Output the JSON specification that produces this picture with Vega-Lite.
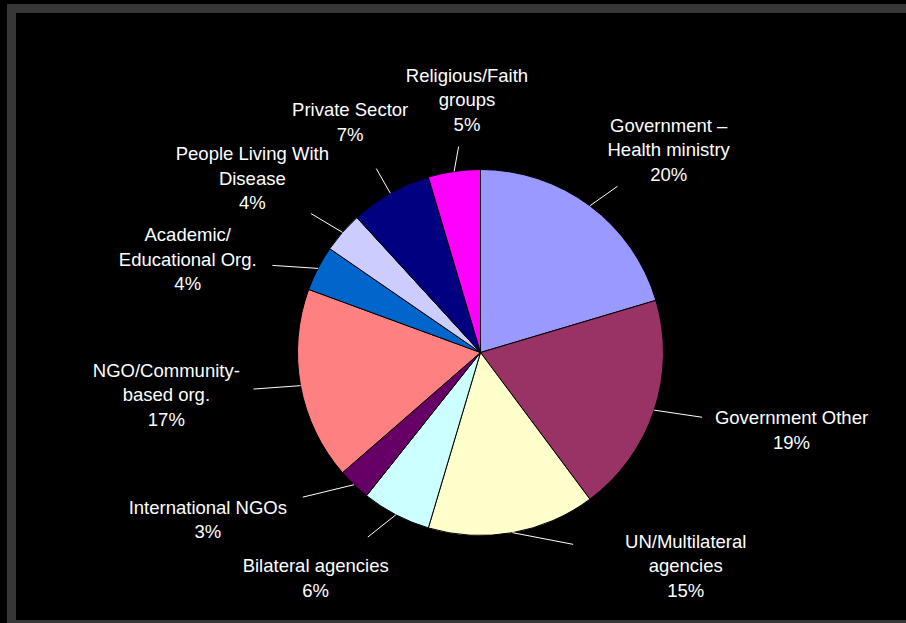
{
  "$schema": "https://vega.github.io/schema/vega-lite/v6.json",
  "width": 906,
  "height": 623,
  "autosize": {"type": "fit", "contains": "padding"},
  "padding": {"left": 11.5, "top": 8.5, "right": -6, "bottom": -1.5},
  "background": "black",
  "config": {
    "view": {"fill": "black", "stroke": "#373737", "strokeWidth": 9},
    "axis": {"disable": true}
  },
  "data": {
    "values": [
      {"name": "Government –\nHealth ministry", "v": 20.4},
      {"name": "Government Other", "v": 19.4},
      {"name": "UN/Multilateral\nagencies", "v": 14.8},
      {"name": "Bilateral agencies", "v": 6.1},
      {"name": "International NGOs", "v": 2.9},
      {"name": "NGO/Community-\nbased org.", "v": 17.0},
      {"name": "Academic/\nEducational Org.", "v": 4.0},
      {"name": "People Living With\nDisease", "v": 3.6},
      {"name": "Private Sector", "v": 7.2},
      {"name": "Religious/Faith\ngroups", "v": 4.6}
    ]
  },
  "transform": [
    {"window": [{"op": "row_number", "as": "idx"}]},
    {"joinaggregate": [{"op": "sum", "field": "v", "as": "total"}]},
    {"window": [{"op": "sum", "field": "v", "as": "cum"}], "sort": [{"field": "idx", "order": "ascending"}], "frame": [null, 0]},
    {"calculate": "360*(datum.cum - datum.v/2)/datum.total", "as": "a0"},
    {"calculate": "datum.a0 + (datum.a0 < 180 ? -1 : 1) * max(0, 36 - abs(datum.a0 - 180))", "as": "a1"},
    {"calculate": "datum.a1 - 22*(datum.idx-1)", "as": "b"},
    {"window": [{"op": "max", "field": "b", "as": "bf"}], "sort": [{"field": "idx", "order": "ascending"}], "frame": [null, 0]},
    {"window": [{"op": "min", "field": "b", "as": "bb"}], "sort": [{"field": "idx", "order": "ascending"}], "frame": [0, null]},
    {"calculate": "22*(datum.idx-1) + (datum.bf + datum.bb)/2", "as": "la"},
    {"calculate": "datum.la*PI/180", "as": "lr"},
    {"calculate": "datum.a0*PI/180", "as": "ar"},
    {"calculate": "cos(datum.lr) > 0 ? 1 : pow(pow(abs(sin(datum.lr)),3)+pow(abs(cos(datum.lr)),3),1/3)", "as": "m"},
    {"calculate": "1.72*sin(datum.lr)/datum.m", "as": "lx"},
    {"calculate": "(cos(datum.lr) > 0 ? 1.38 : 1.3)*cos(datum.lr)/datum.m", "as": "ly"},
    {"calculate": "length(split(datum.name, '\\n')) + 1", "as": "nl"},
    {"calculate": "datum.ly + (datum.nl - 1)*24.5/2/183", "as": "ty"},
    {"calculate": "sin(datum.ar)", "as": "sx"},
    {"calculate": "cos(datum.ar)", "as": "sy"},
    {"calculate": "datum.sx + 0.35*(datum.lx - datum.sx)", "as": "ex"},
    {"calculate": "datum.sy + 0.35*(datum.ly - datum.sy)", "as": "ey"},
    {"calculate": "datum.name + '\\n' + format(datum.v/datum.total, '.0%')", "as": "txt"}
  ],
  "layer": [
    {
      "mark": {"type": "arc", "outerRadius": 183, "stroke": "black", "strokeWidth": 1},
      "encoding": {
        "theta": {"field": "v", "type": "quantitative", "stack": true},
        "order": {"field": "idx", "type": "quantitative"},
        "x": {"datum": 0, "type": "quantitative", "scale": {"domain": [-2.5628, 2.358], "nice": false, "zero": false}, "axis": null},
        "y": {"datum": 0, "type": "quantitative", "scale": {"domain": [-1.4863, 1.8798], "nice": false, "zero": false}, "axis": null},
        "color": {
          "field": "name",
          "type": "nominal",
          "legend": null,
          "scale": {
            "domain": ["Government –\nHealth ministry", "Government Other", "UN/Multilateral\nagencies", "Bilateral agencies", "International NGOs", "NGO/Community-\nbased org.", "Academic/\nEducational Org.", "People Living With\nDisease", "Private Sector", "Religious/Faith\ngroups"],
            "range": ["#9999FF", "#993366", "#FFFFCC", "#CCFFFF", "#660066", "#FF8080", "#0066CC", "#CCCCFF", "#000080", "#FF00FF"]
          }
        }
      }
    },
    {
      "mark": {"type": "rule", "color": "white", "strokeWidth": 1},
      "encoding": {
        "x": {"field": "sx", "type": "quantitative", "scale": {"domain": [-2.5628, 2.358], "nice": false, "zero": false}, "axis": null},
        "y": {"field": "sy", "type": "quantitative", "scale": {"domain": [-1.4863, 1.8798], "nice": false, "zero": false}, "axis": null},
        "x2": {"field": "ex"},
        "y2": {"field": "ey"}
      }
    },
    {
      "mark": {"type": "text", "color": "white", "font": "Liberation Sans", "fontSize": 18.5, "lineHeight": 24.5, "lineBreak": "\n", "align": "center", "baseline": "middle"},
      "encoding": {
        "x": {"field": "lx", "type": "quantitative", "scale": {"domain": [-2.5628, 2.358], "nice": false, "zero": false}, "axis": null},
        "y": {"field": "ty", "type": "quantitative", "scale": {"domain": [-1.4863, 1.8798], "nice": false, "zero": false}, "axis": null},
        "text": {"field": "txt", "type": "nominal"}
      }
    }
  ]
}
